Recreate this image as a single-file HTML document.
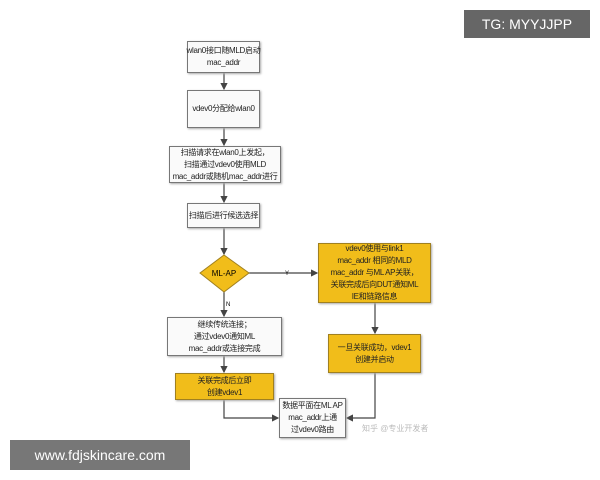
<!DOCTYPE html>
<html><head><meta charset="utf-8"><style>
body{margin:0;width:600px;height:480px;background:#fff;position:relative;overflow:hidden;font-family:"Liberation Sans","Noto Sans CJK SC",sans-serif}
.b{position:absolute;box-sizing:border-box;border:1px solid #777;background:#fafafa;font-size:8px;line-height:12px;text-align:center;display:flex;align-items:center;justify-content:center;color:#222;box-shadow:1px 1px 2px #aaa;white-space:nowrap;letter-spacing:-0.3px}
.y{background:#f1bd1a;border-color:#a08020}
svg{position:absolute;left:0;top:0}
</style></head><body>
<svg width="600" height="480">
<defs><marker id="a" markerWidth="6" markerHeight="6" refX="5" refY="3" orient="auto"><path d="M0,0L6,3L0,6z" fill="#444"/></marker></defs>
<g stroke="#444" stroke-width="1.2" fill="none">
<line x1="224" y1="73" x2="224" y2="89" marker-end="url(#a)"/>
<line x1="224" y1="128" x2="224" y2="145" marker-end="url(#a)"/>
<line x1="224" y1="183" x2="224" y2="202" marker-end="url(#a)"/>
<line x1="224" y1="228" x2="224" y2="254" marker-end="url(#a)"/>
<line x1="249" y1="273" x2="317" y2="273" marker-end="url(#a)"/>
<line x1="224" y1="292" x2="224" y2="316" marker-end="url(#a)"/>
<line x1="224" y1="356" x2="224" y2="372" marker-end="url(#a)"/>
<line x1="375" y1="303" x2="375" y2="333" marker-end="url(#a)"/>
<polyline points="224,400 224,418 278,418" marker-end="url(#a)"/>
<polyline points="375,373 375,418 347,418" marker-end="url(#a)"/>
</g>
<polygon points="224,255 249,273 224,292 200,273" fill="#f1bd1a" stroke="#a08020"/>
<text x="224" y="276" font-size="8" text-anchor="middle" font-family="Liberation Sans">ML-AP</text>
<text x="285" y="275" font-size="6" font-family="Liberation Sans">Y</text>
<text x="226" y="306" font-size="6" font-family="Liberation Sans">N</text>
<text x="362" y="431" font-size="8" fill="#bbb" font-family="Liberation Sans,Noto Sans CJK SC">知乎 @专业开发者</text>
</svg>
<div class="b" style="left:187px;top:41px;width:73px;height:32px">wlan0接口随MLD启动<br>mac_addr</div>
<div class="b" style="left:187px;top:90px;width:73px;height:38px">vdev0分配给wlan0</div>
<div class="b" style="left:169px;top:146px;width:112px;height:37px">扫描请求在wlan0上发起，<br>扫描通过vdev0使用MLD<br>mac_addr或随机mac_addr进行</div>
<div class="b" style="left:187px;top:203px;width:73px;height:25px">扫描后进行候选选择</div>
<div class="b y" style="left:318px;top:243px;width:113px;height:60px">vdev0使用与link1<br>mac_addr 相同的MLD<br>mac_addr 与ML AP关联，<br>关联完成后向DUT通知ML<br>IE和链路信息</div>
<div class="b" style="left:167px;top:317px;width:115px;height:39px">继续传统连接；<br>通过vdev0通知ML<br>mac_addr或连接完成</div>
<div class="b y" style="left:175px;top:373px;width:99px;height:27px">关联完成后立即<br>创建vdev1</div>
<div class="b y" style="left:328px;top:334px;width:93px;height:39px">一旦关联成功，vdev1<br>创建并启动</div>
<div class="b" style="left:279px;top:398px;width:67px;height:40px">数据平面在ML AP<br>mac_addr上通<br>过vdev0路由</div>
<div style="position:absolute;left:464px;top:10px;width:126px;height:28px;background:#666;color:#fff;font-size:14px;line-height:28px;text-align:center">TG: MYYJJPP</div>
<div style="position:absolute;left:10px;top:440px;width:180px;height:30px;background:#777;color:#fff;font-size:14px;line-height:30px;text-align:center">www.fdjskincare.com</div>
</body></html>
